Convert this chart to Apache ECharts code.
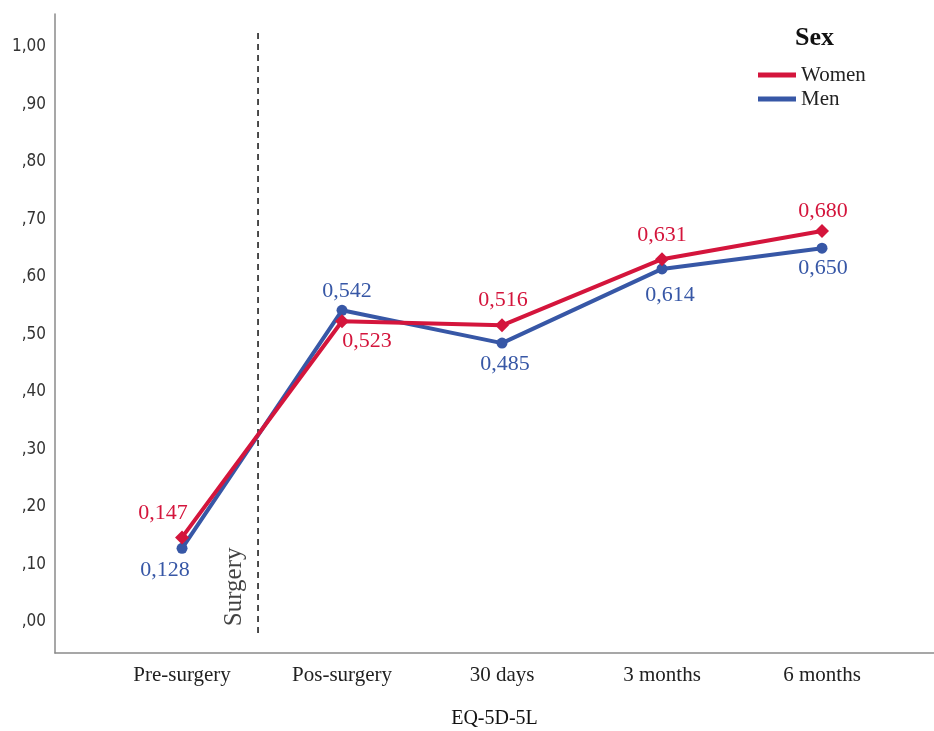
<!DOCTYPE html>
<html><head><meta charset="utf-8">
<script src="https://cdn.jsdelivr.net/npm/echarts@6/dist/echarts.min.js"></script>
<style>html,body{margin:0;padding:0;background:#fff}#c{width:934px;height:731px}</style>
</head><body><div id="c"></div>
<script>
const categories = ['Pre-surgery', 'Pos-surgery', '30 days', '3 months', '6 months'];
const women = [0.147, 0.523, 0.516, 0.631, 0.680];
const men = [0.128, 0.542, 0.485, 0.614, 0.650];
const yTicks = [0, 0.1, 0.2, 0.3, 0.4, 0.5, 0.6, 0.7, 0.8, 0.9, 1.0];
const surgeryX = 0.475;

const RED = '#d4153c', BLUE = '#3757a6';
const serif = 'Liberation Serif';
const fmtVal = v => v.toFixed(3).replace('.', ',');
const fmtTick = v => { const s = v.toFixed(2).replace('.', ','); return s.startsWith('0') ? s.slice(1) : s; };

// label offsets (px) per point
const womenOff = [[-19,-24],[25,20],[1,-25],[0,-24],[1,-20]];
const menOff = [[-17,22],[5,-19],[3,21],[8,26],[1,20]];

const mk = (vals, offs) => vals.map((v, i) => ({
  value: [i, v],
  label: { offset: offs[i] }
}));

const chart = echarts.init(document.getElementById('c'));
chart.setOption({
  animation: false,
  backgroundColor: '#fff',
  grid: { left: 55, right: 0, top: 14, bottom: 78, outerBoundsMode: 'none', containLabel: false },
  xAxis: {
    type: 'value', min: -0.794, max: 4.7,
    axisLine: { show: true, onZero: false, lineStyle: { color: '#8a8a8a', width: 1.5 } },
    axisTick: { show: false },
    splitLine: { show: false },
    axisLabel: {
      customValues: [0,1,2,3,4],
      formatter: v => categories[Math.round(v)] || '',
      fontFamily: serif, fontSize: 21, color: '#222', margin: 12
    },
    name: 'EQ-5D-5L', nameLocation: 'middle', nameGap: 56,
    nameTextStyle: { fontFamily: serif, fontSize: 20, color: '#111' }
  },
  yAxis: {
    type: 'value', min: -0.054, max: 1.0574,
    axisLine: { show: true, onZero: false, lineStyle: { color: '#8a8a8a', width: 1.5 } },
    axisTick: { show: false },
    splitLine: { show: false },
    axisLabel: {
      customValues: yTicks, formatter: fmtTick,
      fontFamily: 'Liberation Sans Narrow, DejaVu Sans Condensed, sans-serif', fontSize: 17, color: '#333', margin: 9
    }
  },
  legend: {
    orient: 'vertical', left: 753, top: 59, itemGap: 2,
    icon: 'rect', itemWidth: 38, itemHeight: 5,
    textStyle: { fontFamily: serif, fontSize: 21, lineHeight: 22, color: '#222' },
    data: ['Women', 'Men']
  },
  graphic: [{
    type: 'text', left: 795, top: 25,
    style: { text: 'Sex', fontFamily: serif, fontSize: 26, fontWeight: 'bold', fill: '#111' }
  }],
  series: [
    {
      name: 'Surgery line', type: 'line', silent: true, symbol: 'none',
      data: [[surgeryX, -0.019], [surgeryX, 1.026]],
      lineStyle: { color: '#111', width: 1.5, type: [6, 5] }, z: 1
    },
    {
      name: 'Surgery label', type: 'scatter', silent: true, symbolSize: 0,
      data: [[0.328, 0.061]],
      label: { show: true, position: 'inside', rotate: 90, formatter: 'Surgery',
        fontFamily: serif, fontSize: 25, color: '#111' }
    },
    {
      name: 'Men', type: 'line', data: mk(men, menOff),
      symbol: 'circle', symbolSize: 11,
      itemStyle: { color: BLUE }, lineStyle: { color: BLUE, width: 4 },
      label: { show: true, position: 'inside', formatter: p => fmtVal(p.value[1]),
        fontFamily: serif, fontSize: 22, color: BLUE }, z: 3
    },
    {
      name: 'Women', type: 'line', data: mk(women, womenOff),
      symbol: 'diamond', symbolSize: 14,
      itemStyle: { color: RED }, lineStyle: { color: RED, width: 4 },
      label: { show: true, position: 'inside', formatter: p => fmtVal(p.value[1]),
        fontFamily: serif, fontSize: 22, color: RED }, z: 4
    }
  ]
});
</script></body></html>
